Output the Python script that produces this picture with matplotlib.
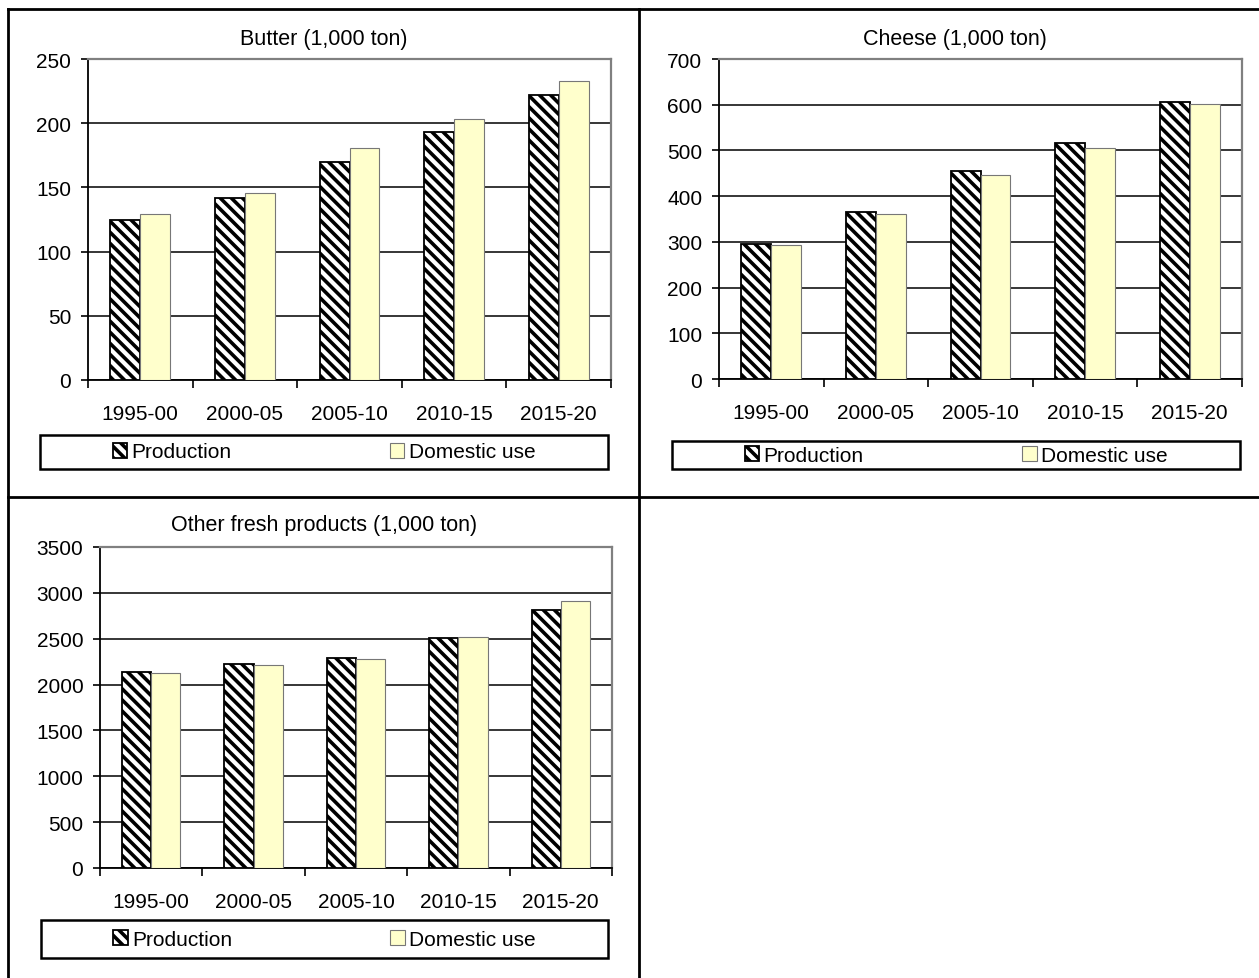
import numpy as np
import matplotlib
matplotlib.use('Agg')
from matplotlib import pyplot as plt
from matplotlib.lines import Line2D
from matplotlib.patches import Rectangle

periods = ['1995-00', '2000-05', '2005-10', '2010-15', '2015-20']
series_names = ['Production', 'Domestic use']

butter_prod = [125, 142, 170, 193, 222]
butter_dom = [129, 146, 181, 203, 233]
cheese_prod = [295, 365, 455, 516, 605]
cheese_dom = [294, 360, 447, 506, 602]
other_prod = [2138, 2228, 2290, 2503, 2815]
other_dom = [2123, 2217, 2283, 2518, 2913]

plt.rcParams['font.family'] = ['Liberation Sans', 'DejaVu Sans']
plt.rcParams['hatch.linewidth'] = 2.6

W, H = 1259, 979
fig = plt.figure(figsize=(W / 100, H / 100), dpi=100)


def fx(x):
    return x / W


def fy(y):
    return 1 - y / H


def panel(rect, title, title_xy, prod, dom, ymax, ystep, leg_box):
    # rect / leg_box are (left, top, right, bottom) in pixels
    l, t, r, b = rect
    ax = fig.add_axes([fx(l), fy(b), fx(r) - fx(l), fy(t) - fy(b)])
    x = np.arange(len(periods))
    w = 0.2857
    b1 = ax.bar(x - w / 2, prod, w, color='white', edgecolor='black',
                linewidth=1.3, hatch='\\\\\\', zorder=3)
    b2 = ax.bar(x + w / 2, dom, w, color='#FFFFCC', edgecolor='#777777',
                linewidth=0.8, zorder=3)

    ax.set_xlim(-0.5, len(periods) - 0.5)
    ax.set_ylim(0, ymax)
    ax.set_yticks(np.arange(0, ymax + 1, ystep))
    ax.yaxis.grid(True, color='black', linewidth=1.1, zorder=0)
    ax.set_axisbelow(True)

    ax.set_xticks(np.arange(len(periods) + 1) - 0.5)
    ax.set_xticklabels([])
    ax.set_xticks(x, minor=True)
    ax.set_xticklabels(periods, minor=True)
    ax.tick_params(axis='x', which='major', length=5.5, width=1.2, direction='out')
    ax.tick_params(axis='x', which='minor', length=0, pad=17.5, labelsize=15)
    ax.tick_params(axis='y', length=5, width=1.2, direction='out', pad=7,
                   labelsize=15)

    for s in ('left', 'bottom'):
        ax.spines[s].set_color('black')
        ax.spines[s].set_linewidth(1.3)
    for s in ('top', 'right'):
        ax.spines[s].set_color('#808080')
        ax.spines[s].set_linewidth(1.6)

    fig.text(fx(title_xy[0]), fy(title_xy[1]), title, ha='center', va='center',
             fontsize=15.5)

    bl, bt, br, bb = leg_box
    fig.add_artist(Rectangle((fx(bl), fy(bb)), fx(br) - fx(bl), fy(bt) - fy(bb),
                             transform=fig.transFigure, facecolor='none',
                             edgecolor='black', linewidth=1.8))
    ax.legend([b1, b2], series_names, loc='center',
              bbox_to_anchor=(fx((bl + br) / 2), fy((bt + bb) / 2)),
              bbox_transform=fig.transFigure, ncol=2, frameon=False,
              fontsize=15, handlelength=0.7, handleheight=0.7,
              handletextpad=0.2, columnspacing=7.6, borderpad=0)
    return ax


panel((88, 60, 611, 381), 'Butter (1,000 ton)', (324, 40),
      butter_prod, butter_dom, 250, 50, (40, 436, 608, 470))
panel((719, 60, 1242, 380), 'Cheese (1,000 ton)', (955, 40),
      cheese_prod, cheese_dom, 700, 100, (672, 442, 1240, 470))
panel((100, 548, 612, 869), 'Other fresh products (1,000 ton)', (324, 526),
      other_prod, other_dom, 3500, 500, (41, 921, 608, 959))

# table grid around the panels
for (x0, y0, x1, y1) in [(8, 10, 1259, 10), (8, 10, 8, 979),
                         (639, 10, 639, 979), (8, 498, 1259, 498)]:
    fig.add_artist(Line2D([fx(x0), fx(x1)], [fy(y0), fy(y1)],
                          transform=fig.transFigure, color='black',
                          linewidth=2.0))

fig.savefig('out.png', dpi=100)
